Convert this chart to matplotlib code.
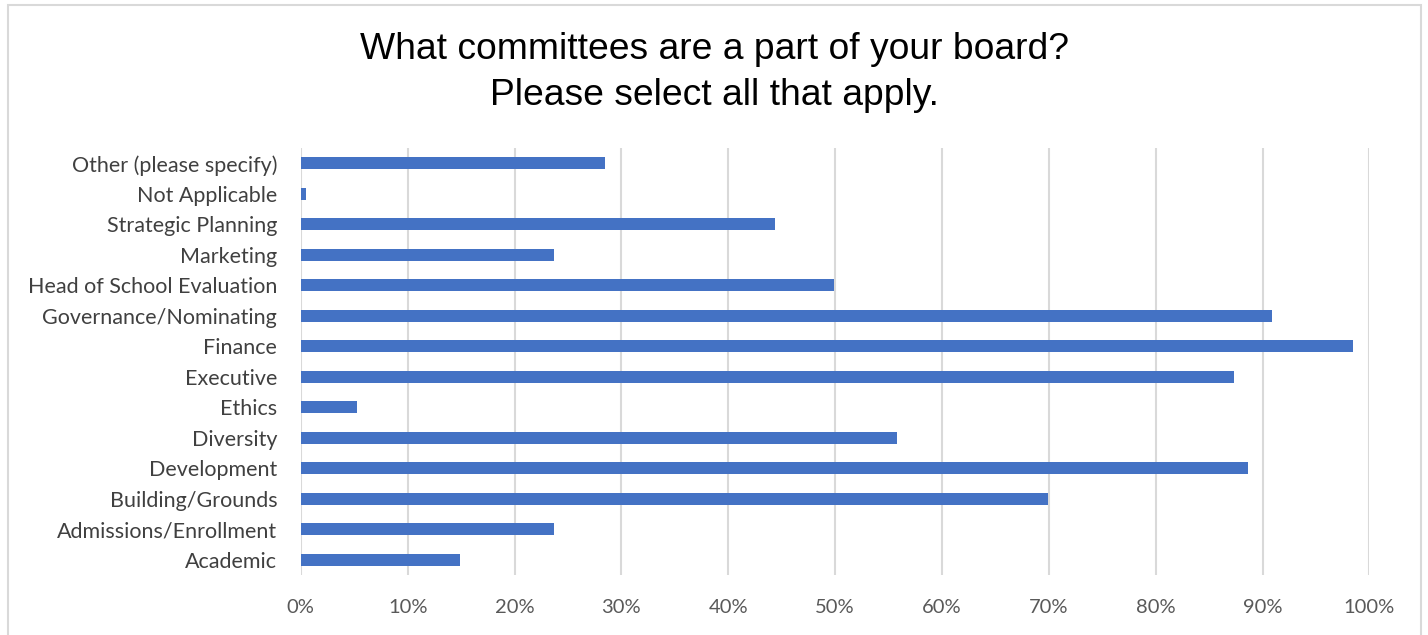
import matplotlib
matplotlib.use("Agg")
import matplotlib.pyplot as plt
from matplotlib.patches import Rectangle
from matplotlib.ticker import PercentFormatter

# categories, bottom to top as drawn
committees = [
    "Academic",
    "Admissions/Enrollment",
    "Building/Grounds",
    "Development",
    "Diversity",
    "Ethics",
    "Executive",
    "Finance",
    "Governance/Nominating",
    "Head of School Evaluation",
    "Marketing",
    "Strategic Planning",
    "Not Applicable",
    "Other (please specify)",
]
share = [0.149, 0.237, 0.699, 0.886, 0.558, 0.053, 0.873, 0.985,
         0.909, 0.499, 0.237, 0.444, 0.005, 0.285]

x_ticks = [i / 10 for i in range(11)]

W, H = 1428, 635
fig = plt.figure(figsize=(W / 100, H / 100), dpi=100)

# light grey chart-area border
fig.patches.append(Rectangle((8 / W, -0.05), (1421 - 8) / W, 1.05 - 5 / H,
                             transform=fig.transFigure, fill=False,
                             edgecolor="#d9d9d9", linewidth=1.5))

ax = fig.add_axes([300.8 / W, 1 - 575 / H, (1369.4 - 300.8) / W, (575 - 148) / H])

ax.barh(range(len(committees)), share, height=0.39, color="#4472C4", zorder=3)

ax.set_xlim(0, 1)
ax.set_ylim(-0.5, len(committees) - 0.5)
ax.set_xticks(x_ticks)
ax.xaxis.set_major_formatter(PercentFormatter(1.0, decimals=0))
ax.set_yticks(range(len(committees)))
ax.set_yticklabels(committees)

ax.grid(axis="x", color="#d9d9d9", linewidth=1.5, zorder=0)
for s in ax.spines.values():
    s.set_visible(False)
ax.tick_params(axis="both", length=0)
ax.tick_params(axis="x", pad=17, labelsize=14.5, labelcolor="#595959")
ax.tick_params(axis="y", pad=17, labelsize=15.5, labelcolor="#404040")
for lab in ax.get_xticklabels() + ax.get_yticklabels():
    lab.set_family("Lato")

fig.text(0.5, 1 - 72.5 / H,
         "What committees are a part of your board?\nPlease select all that apply.",
         ha="center", va="center", fontsize=26.8, family="Liberation Sans",
         color="#000000", linespacing=1.4)

fig.savefig("out.png", dpi=100)
